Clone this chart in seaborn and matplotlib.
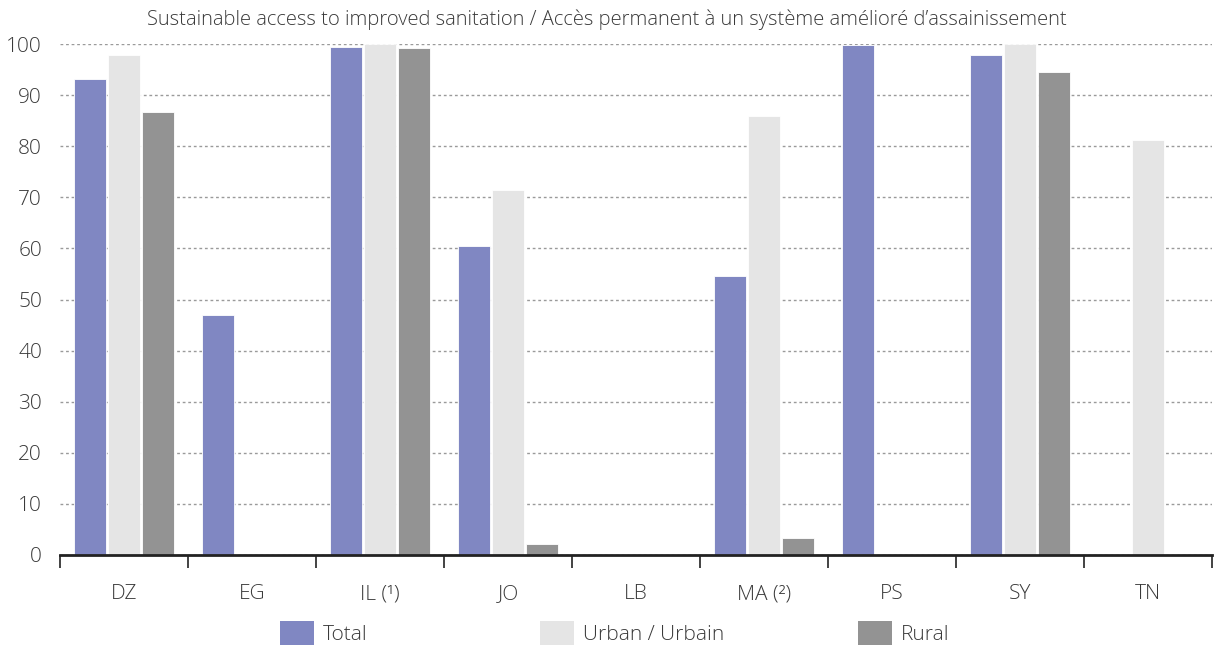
import pandas
import seaborn as sns
import matplotlib.pyplot as plt
from matplotlib.patches import Patch
import numpy as np

# dados
paises = ["DZ", "EG", "IL (¹)", "JO", "LB", "MA (²)", "PS", "SY", "TN"]
total = [93.2, 47.0, 99.5, 60.5, np.nan, 54.6, 99.8, 97.8, np.nan]
urbano = [97.8, np.nan, 100.0, 71.4, np.nan, 85.9, np.nan, 100.0, 81.2]
rural = [86.7, np.nan, 99.2, 2.2, np.nan, 3.3, np.nan, 94.5, np.nan]
series = ["Total", "Urban / Urbain", "Rural"]
cores = ["#8087c2", "#e5e5e5", "#939393"]
titulo = "Sustainable access to improved sanitation / Accès permanent à un système amélioré d’assainissement"

tabela = pandas.DataFrame({"pais": paises * 3,
                           "serie": [series[0]] * 9 + [series[1]] * 9 + [series[2]] * 9,
                           "valor": total + urbano + rural})

sns.set_style("white")
plt.rcParams['font.family'] = ['Open Sans', 'DejaVu Sans']
texto = "#3a3a3a"

fig = plt.figure(figsize=(12.14, 6.54), dpi=100)
ax = fig.add_axes([60 / 1214, 99 / 654, 1152 / 1214, 511 / 654])

sns.barplot(data=tabela, x="pais", y="valor", hue="serie", hue_order=series,
            palette=cores, order=paises, errorbar=None, gap=0.06, width=0.8,
            saturation=1, edgecolor="white", linewidth=0.6, ax=ax, legend=False, zorder=2)

ax.set_xlim(-0.5, len(paises) - 0.5)
ax.set_ylim(0, 100)
ax.set_yticks(range(0, 101, 10))
ax.yaxis.grid(True, linestyle=(0, (2, 2)), color="#9a9a9a", linewidth=1, zorder=0)
ax.set_axisbelow(True)

# ticks nas fronteiras, rotulos no centro
ax.set_xticks(np.arange(-0.5, len(paises)), labels=[])
ax.set_xticks(range(len(paises)), labels=paises, minor=True)
ax.tick_params(axis="x", which="major", bottom=True, length=9, width=1.2,
               color="#222222", direction="out")
ax.tick_params(axis="x", which="minor", bottom=True, length=0, pad=21,
               labelsize=15, labelcolor=texto)
ax.tick_params(axis="y", length=0, pad=13, labelsize=15, labelcolor=texto)
for lbl in ax.get_xticklabels(minor=True) + ax.get_yticklabels():
    lbl.set_fontweight("light")

ax.set_xlabel("")
ax.set_ylabel("")
for lado in ["left", "right", "top"]:
    ax.spines[lado].set_visible(False)
ax.spines["bottom"].set_color("#222222")
ax.spines["bottom"].set_linewidth(2)

fig.text(0.5, 1 - 20 / 654, titulo, ha="center", va="center", fontsize=14.5,
         color=texto, fontweight="light")

# legenda em tres pedacos
posicoes = [280, 540, 858]
for nome, cor, px in zip(series, cores, posicoes):
    fig.legend(handles=[Patch(facecolor=cor, edgecolor="none", label=nome)],
               loc="center left", bbox_to_anchor=(px / 1214, 1 - 633 / 654),
               frameon=False, handlelength=1.65, handleheight=1.45,
               handletextpad=0.4, borderpad=0, borderaxespad=0, labelcolor=texto,
               prop={"weight": "light", "size": 15})

plt.savefig("out.png", dpi=100)
